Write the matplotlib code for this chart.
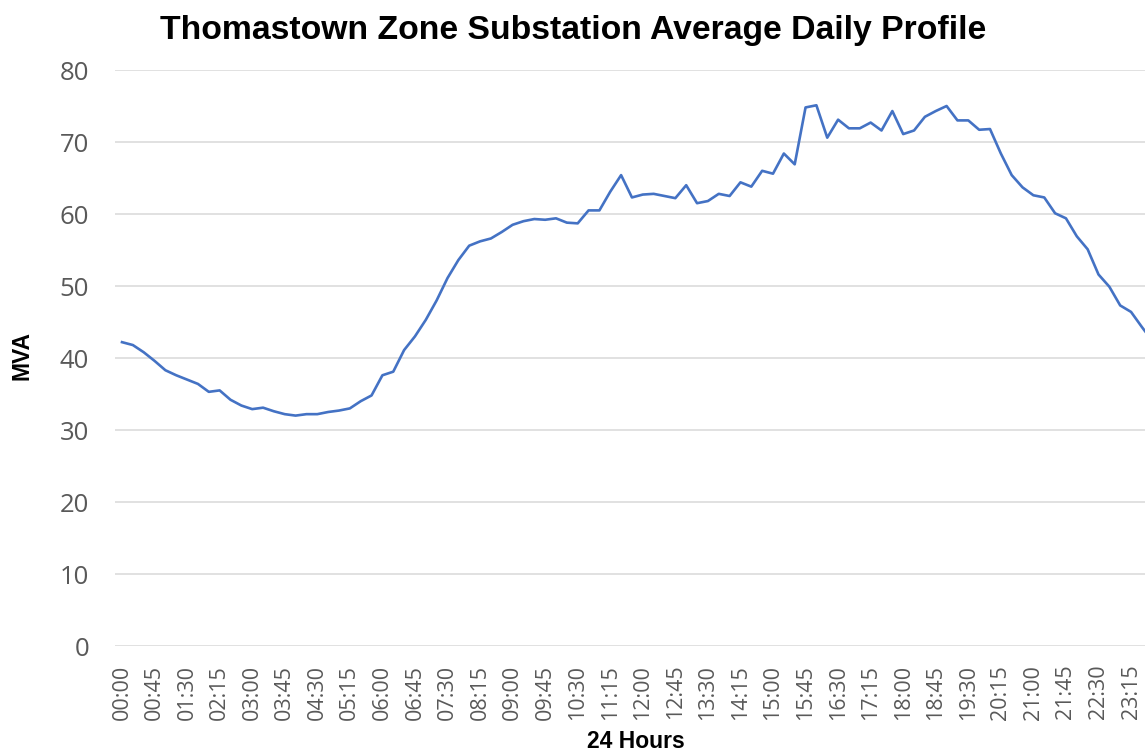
#recreate the Thomastown zone substation daily profile chart
import numpy as np
import matplotlib
matplotlib.use("Agg")
import matplotlib.pyplot as plt

#data------------------------------------------------------------------
#15 minute intervals over one day
times = [f"{h:02d}:{m:02d}" for h in range(24) for m in (0, 15, 30, 45)]
mva = [42.2, 41.8, 40.8, 39.6, 38.3, 37.6, 37.0, 36.4, 35.3, 35.5,
       34.2, 33.4, 32.9, 33.1, 32.6, 32.2, 32.0, 32.2, 32.2, 32.5,
       32.7, 33.0, 34.0, 34.8, 37.6, 38.1, 41.1, 43.0, 45.3, 48.0,
       51.1, 53.6, 55.6, 56.2, 56.6, 57.5, 58.5, 59.0, 59.3, 59.2,
       59.4, 58.8, 58.7, 60.5, 60.5, 63.1, 65.4, 62.3, 62.7, 62.8,
       62.5, 62.2, 64.0, 61.5, 61.8, 62.8, 62.5, 64.4, 63.8, 66.0,
       65.6, 68.4, 66.9, 74.8, 75.1, 70.6, 73.1, 71.9, 71.9, 72.7,
       71.6, 74.3, 71.1, 71.6, 73.5, 74.3, 75.0, 73.0, 73.0, 71.7,
       71.8, 68.4, 65.4, 63.7, 62.6, 62.3, 60.1, 59.4, 56.9, 55.1,
       51.6, 49.9, 47.3, 46.4, 44.3, 42.3]
yticks = [0, 10, 20, 30, 40, 50, 60, 70, 80]

#figure----------------------------------------------------------------
W, H = 1145, 753
fig = plt.figure(figsize=(W/100, H/100), dpi=100)
#plot area: left edge 115px, 80 line at 70px, 0 line at 646px, runs off the right side
ax = fig.add_axes([115/W, (H-646)/H, 1 - 115/W, (646-70)/H])

x = np.arange(len(mva))
ax.plot(x, mva, color="#4472C4", lw=1.9, solid_joinstyle="round")

step = 10.85  #pixels per 15 min point, first point at 122px
ax.set_xlim(-(122-115)/step, (W-122)/step)
ax.set_ylim(0, 80)

ax.set_yticks(yticks)
ax.yaxis.grid(True, color="#d9d9d9", lw=1.1)
ax.set_axisbelow(True)
ax.set_xticks(x[::3])
ax.set_xticklabels(times[::3], rotation=90)
for s in ax.spines.values():
    s.set_visible(False)
ax.tick_params(axis="y", length=0, pad=18.5, labelsize=18.5, labelcolor="#595959")
ax.tick_params(axis="x", length=0, pad=13.5, labelsize=15.5, labelcolor="#595959")
for lab in ax.get_xticklabels() + ax.get_yticklabels():
    lab.set_fontfamily("Open Sans")

#titles
fig.text(573.5/W, 1 - 31/H, "Thomastown Zone Substation Average Daily Profile",
         ha="center", va="center", fontsize=24.3, fontweight="bold",
         family="Liberation Sans")
fig.text(22/W, 1 - 355/H, "MVA", rotation=90, ha="center", va="center",
         fontsize=16.5, fontweight="bold", family="Liberation Sans")
fig.text(636/W, 1 - 742/H, "24 Hours", ha="center", va="center",
         fontsize=16.5, fontweight="bold", family="Liberation Sans")

fig.savefig("out.png", dpi=100)
